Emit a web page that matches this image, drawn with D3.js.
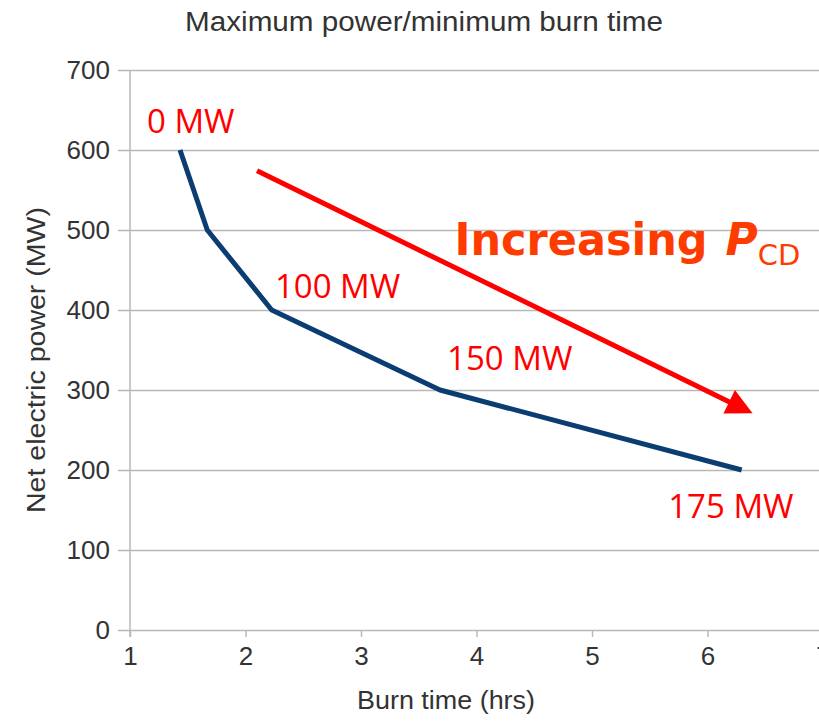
<!DOCTYPE html>
<html>
<head>
<meta charset="utf-8">
<script src="https://cdn.jsdelivr.net/npm/d3@7"></script>
<style>
  html, body { margin: 0; padding: 0; background: #fff; overflow: hidden; }
  svg { display: block; }
</style>
</head>
<body>
<svg width="819" height="721"></svg>
<script>
const width = 819, height = 721;
const svg = d3.select("svg");

// data
const burnTime = [1.433, 1.669, 2.227, 3.684, 6.296];
const netPower = [600, 500, 400, 300, 200];
const xTicks = [1, 2, 3, 4, 5, 6, 7];
const yTicks = [0, 100, 200, 300, 400, 500, 600, 700];

// annotations, in data units
const labelText = ["0 MW", "100 MW", "150 MW", "175 MW"];
const labelX = [1.147, 2.255, 3.745, 5.66];
const labelY = [621, 415, 325, 140];
const arrowFrom = [2.10, 574];
const arrowTo = [6.39, 271];

const x = d3.scaleLinear().domain([1, 7]).range([130, 823]);
const y = d3.scaleLinear().domain([0, 700]).range([630, 70]);

const gridColor = "#b8b8b8";
const textColor = "#333";
const sans = "'Liberation Sans', Arial, sans-serif";

// horizontal gridlines + y axis
const yAxis = d3.axisLeft(y).tickValues(yTicks).tickSize(0).tickPadding(20);
const gy = svg.append("g").attr("transform", "translate(130,0)").call(yAxis);
gy.select(".domain").remove();
gy.selectAll(".tick line")
  .attr("x1", -12).attr("x2", 823 - 130)
  .attr("stroke", gridColor).attr("stroke-width", 1.5);
gy.selectAll(".tick text")
  .attr("x", -20)
  .attr("fill", textColor)
  .style("font-family", sans)
  .style("font-size", "26px");

// x axis
const xAxis = d3.axisBottom(x).tickValues(xTicks).tickFormat(d3.format("d")).tickSize(7).tickPadding(10);
const gx = svg.append("g").attr("transform", "translate(0,630)").call(xAxis);
gx.select(".domain").remove();
gx.selectAll(".tick line").attr("stroke", gridColor).attr("stroke-width", 1.5);
gx.selectAll(".tick text")
  .attr("fill", textColor)
  .style("font-family", sans)
  .style("font-size", "26px");

// vertical axis line
svg.append("line")
  .attr("x1", x(1)).attr("x2", x(1))
  .attr("y1", y(700)).attr("y2", y(0) + 7)
  .attr("stroke", gridColor).attr("stroke-width", 1.5);

// title and axis labels
svg.append("text")
  .attr("x", 185).attr("y", 31)
  .attr("textLength", 478).attr("lengthAdjust", "spacingAndGlyphs")
  .attr("fill", textColor)
  .style("font-family", sans)
  .style("font-size", "27px")
  .text("Maximum power/minimum burn time");

svg.append("text")
  .attr("x", 357).attr("y", 709)
  .attr("textLength", 178).attr("lengthAdjust", "spacingAndGlyphs")
  .attr("fill", textColor)
  .style("font-family", sans)
  .style("font-size", "25px")
  .text("Burn time (hrs)");

svg.append("text")
  .attr("transform", "translate(45,513) rotate(-90)")
  .attr("textLength", 306).attr("lengthAdjust", "spacingAndGlyphs")
  .attr("fill", textColor)
  .style("font-family", sans)
  .style("font-size", "25px")
  .text("Net electric power (MW)");

// the series
const line = d3.line().x((d, i) => x(burnTime[i])).y(d => y(d));
svg.append("path")
  .datum(netPower)
  .attr("d", line)
  .attr("fill", "none")
  .attr("stroke", "#0b3d72")
  .attr("stroke-width", 5)
  .attr("stroke-linejoin", "round");

// red labels
svg.selectAll("text.mw")
  .data(labelText)
  .join("text")
  .attr("class", "mw")
  .attr("x", (d, i) => x(labelX[i]))
  .attr("y", (d, i) => y(labelY[i]))
  .attr("fill", "#ff0000")
  .style("font-family", "'Open Sans', sans-serif")
  .style("font-size", "33px")
  .text(d => d);

// arrow
const x0 = x(arrowFrom[0]), y0 = y(arrowFrom[1]);
const x1 = x(arrowTo[0]), y1 = y(arrowTo[1]);
const ang = Math.atan2(y1 - y0, x1 - x0);
const headLen = 26, headHalf = 13;
const bx = x1 - headLen * Math.cos(ang), by = y1 - headLen * Math.sin(ang);
svg.append("line")
  .attr("x1", x0).attr("y1", y0)
  .attr("x2", bx + 2 * Math.cos(ang)).attr("y2", by + 2 * Math.sin(ang))
  .attr("stroke", "#ff0000").attr("stroke-width", 5);
svg.append("path")
  .attr("d", d3.line()([
    [x1, y1],
    [bx - headHalf * Math.sin(ang), by + headHalf * Math.cos(ang)],
    [bx + headHalf * Math.sin(ang), by - headHalf * Math.cos(ang)]
  ]) + "Z")
  .attr("fill", "#ff0000");

// "Increasing P_CD"
const inc = svg.append("text")
  .attr("x", x(3.81)).attr("y", y(469))
  .attr("fill", "#ff3c00")
  .style("font-family", "'DejaVu Sans', Verdana, sans-serif")
  .style("font-weight", "bold")
  .style("font-size", "44px");
inc.append("tspan").attr("textLength", 253).attr("lengthAdjust", "spacingAndGlyphs").text("Increasing");
inc.append("tspan").attr("dx", 18).style("font-style", "italic").text("P");
inc.append("tspan").attr("dx", 0).attr("dy", 10)
  .style("font-weight", "normal").style("font-size", "29px").text("CD");
</script>
</body>
</html>
